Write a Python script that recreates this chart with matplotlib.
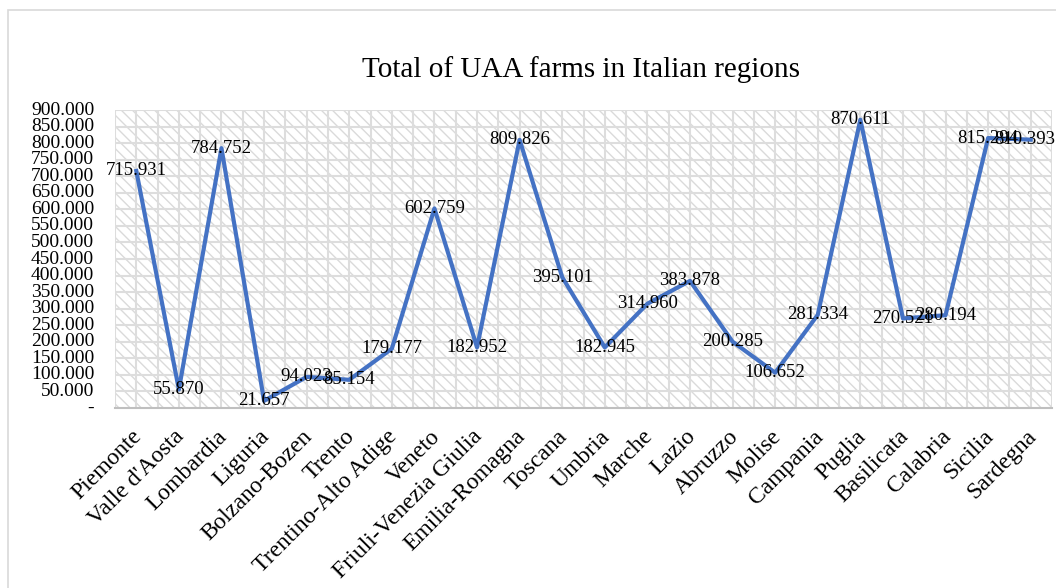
import matplotlib
matplotlib.use("Agg")
import matplotlib.pyplot as plt
from matplotlib.patches import Rectangle
import matplotlib.transforms as mtransforms
import numpy as np

regions = ["Piemonte", "Valle d'Aosta", "Lombardia", "Liguria", "Bolzano-Bozen",
           "Trento", "Trentino-Alto Adige", "Veneto", "Friuli-Venezia Giulia",
           "Emilia-Romagna", "Toscana", "Umbria", "Marche", "Lazio", "Abruzzo",
           "Molise", "Campania", "Puglia", "Basilicata", "Calabria", "Sicilia",
           "Sardegna"]
uaa = [715931, 55870, 784752, 21657, 94023, 85154, 179177, 602759, 182952,
       809826, 395101, 182945, 314960, 383878, 200285, 106652, 281334, 870611,
       270521, 280194, 815294, 810393]
y_ticks = list(range(0, 900001, 50000))
title = "Total of UAA farms in Italian regions"

plt.rcParams['font.family'] = ['Liberation Serif', 'DejaVu Serif']
plt.rcParams['hatch.linewidth'] = 1.0

def fmt(v):
    if v == 0:
        return "-"
    return f"{v:,}".replace(",", ".")

W, H = 1056, 588
fig = plt.figure(figsize=(W / 100, H / 100), dpi=100)
# outer chart border
fig.patches.append(Rectangle((8 / W, -0.1), 1.2, 1.1 - 10 / H, transform=fig.transFigure,
                             fill=False, edgecolor='#d9d9d9', linewidth=1.2))

left, right, top, bottom = 115, 1052, 110, 408
ax = fig.add_axes([left / W, 1 - bottom / H, (right - left) / W, (bottom - top) / H])

n = len(regions)
x = np.arange(n)
ax.set_xlim(-0.5, n - 0.5)
ax.set_ylim(0, 900000)

# hatched background
ax.add_patch(Rectangle((0, 0), 1, 1, transform=ax.transAxes, facecolor='white',
                       edgecolor='#dadada', hatch='\\\\\\', linewidth=0, zorder=0))

for yv in y_ticks[1:]:
    ax.axhline(yv, color='#dddddd', lw=1.5, zorder=1)
for xv in np.arange(-0.5, n, 0.5):
    ax.axvline(xv, color='#dddddd', lw=1.5, zorder=1)

ax.plot(x, uaa, color='#4472C4', lw=3.0, solid_joinstyle='round', zorder=3)

for i, (xi, v) in enumerate(zip(x, uaa)):
    t = ax.text(xi, v, fmt(v), ha='center', va='center', fontsize=13.5, color='black',
                zorder=4, clip_on=False)
    if i == n - 1:
        # keep the last label inside the chart area
        t.set_transform(t.get_transform() +
                        mtransforms.ScaledTranslation(-6 / 100, 0, fig.dpi_scale_trans))

for s in ['top', 'right', 'left']:
    ax.spines[s].set_visible(False)
ax.spines['bottom'].set_color('#bfbfbf')
ax.spines['bottom'].set_linewidth(1.5)
ax.spines['bottom'].set_zorder(2)

ax.set_yticks(y_ticks)
ax.set_yticklabels([fmt(v) for v in y_ticks], fontsize=14)
ax.yaxis.set_tick_params(pad=15)
for lbl in ax.get_yticklabels():
    lbl.set_verticalalignment('center')
ax.set_xticks(x)
ax.set_xticklabels(regions, rotation=45, ha='right', va='top', rotation_mode='anchor',
                   fontsize=17)
ax.tick_params(axis='both', length=0)
ax.tick_params(axis='x', pad=13)
shift = mtransforms.ScaledTranslation(-5 / 100, 0, fig.dpi_scale_trans)
for lbl in ax.get_xticklabels():
    lbl.set_transform(lbl.get_transform() + shift)

fig.text(581 / W, 1 - 70 / H, title, ha='center', va='center', fontsize=21)

fig.savefig("out.png", dpi=100)
